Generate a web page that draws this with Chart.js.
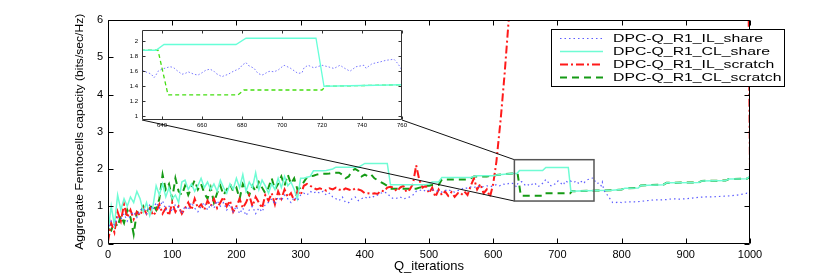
<!DOCTYPE html>
<html><head><meta charset="utf-8">
<script src="https://cdn.jsdelivr.net/npm/chart.js@4/dist/chart.umd.min.js"></script>
<style>
html,body{margin:0;padding:0;background:#fff;}
#wrap{position:relative;width:830px;height:274px;overflow:hidden;}
#main{position:absolute;left:0;top:0;}
#inset{position:absolute;left:110px;top:22px;}
</style></head><body>
<div id="wrap"><canvas id="main" width="830" height="274"></canvas><canvas id="inset" width="300" height="115"></canvas></div>
<script>
// ---------- DATA ----------
const seriesNames = ['DPC-Q_R1_IL_share','DPC-Q_R1_CL_share','DPC-Q_R1_IL_scratch','DPC-Q_R1_CL_scratch'];
const xAxisTitle = 'Q_iterations';
const yAxisTitle = 'Aggregate Femtocells capacity (bits/sec/Hz)';
const mainXTicks = [0,100,200,300,400,500,600,700,800,900,1000];
const mainYTicks = [0,1,2,3,4,5,6];
const insetXTicks = [640,660,680,700,720,740,760];
const insetYTicks = [1,1.2,1.4,1.6,1.8,2];

// iterations sampled for the noisy first part
const iterations = [0,5,10,15,20,25,30,35,40,45,50,55,60,65,70,75,80,85,90,95,
 100,105,110,115,120,125,130,135,140,145,150,155,160,165,170,175,180,185,190,195,
 200,205,210,215,220,225,230,235,240,245,250,255,260,265,270,275,280,285,290,295,
 300,305,310,315,320,325,330,335,340,345,350,355,360,365,370,375,380,385,390,395,
 400,405,410,415,420,425,430,435,440,445,450,455,460,465,470,475,480,485,490,495,
 500,505,510,515,520,525,530,535,540,545,550,555,560,565,570,575,580,585,590,595,600];

const ilShareHead = [0.35,0.6,0.5,0.7,0.65,0.8,0.6,0.75,0.85,0.7,
 0.9,0.95,0.8,1.05,0.9,1.1,0.95,1.15,0.9,1.0,
 0.85,1.05,0.95,0.8,1.0,0.9,1.1,0.95,0.85,1.0,
 1.1,0.9,1.05,0.95,1.15,1.0,1.1,0.9,1.05,0.85,
 1.0,0.8,0.95,0.75,0.9,1.0,0.8,0.95,0.85,1.05,
 1.1,1.2,1.05,1.25,1.15,1.3,1.2,1.1,1.25,1.15,
 1.3,1.35,1.3,1.4,1.35,1.4,1.35,1.4,1.3,1.35,
 1.25,1.2,1.15,1.25,1.1,1.1,1.2,1.25,1.15,1.2,
 1.25,1.2,1.28,1.25,1.3,1.35,1.38,1.35,1.25,1.2,
 1.22,1.25,1.2,1.22,1.25,1.3,1.4,1.42,1.45,1.4,
 1.43,1.45,1.42,1.4,1.38,1.42,1.45,1.4,1.38,1.42,
 1.45,1.5,1.48,1.52,1.5,1.55,1.5,1.53,1.55,1.52,1.55];
const ilShareTailX = [605,610,615,620,625,630,632,634,635,636,637,638,640,642,644,645,646,647,648,650,
 652,653,656,658,660,662,664,666,667,670,671,673,675,677,679,680,682,683,686,688,
 690,691,693,694,696,698,699,701,704,708,710,711,713,716,720,723,726,729,731,734,
 737,741,742,745,749,752,756,758,760,765,768,770,772,775,778,782,786,790,795,800,
 810,820,830,840,850,860,870,880,890,900,910,920,930,940,950,960,970,980,990,995,1000];
const ilShareTailY = [1.58,1.55,1.6,1.58,1.62,1.615,1.59,1.57,1.55,1.514,1.55,1.6,1.628,1.645,1.66,1.655,1.645,1.62,1.6,1.56,
 1.575,1.593,1.56,1.549,1.58,1.615,1.628,1.6,1.571,1.527,1.54,1.558,1.59,1.615,1.64,1.68,1.716,1.68,1.64,1.571,
 1.549,1.56,1.593,1.6,1.593,1.615,1.637,1.68,1.645,1.571,1.58,1.645,1.68,1.645,1.68,1.66,1.637,1.68,1.645,1.6,
 1.66,1.68,1.64,1.70,1.724,1.746,1.76,1.70,1.615,1.62,1.55,1.65,1.45,1.35,1.3,1.2,1.1,1.09,1.12,1.1,
 1.12,1.12,1.13,1.15,1.17,1.17,1.18,1.2,1.19,1.2,1.22,1.24,1.25,1.25,1.26,1.27,1.28,1.3,1.33,1.35,1.32];

const clShareHead = [0.3,1.0,0.5,1.3,0.9,1.2,1.0,1.25,1.1,1.4,
 1.2,0.85,1.1,0.75,1.0,1.55,1.3,1.6,1.25,1.5,
 1.2,1.3,1.1,1.65,1.7,1.45,1.6,1.4,1.55,1.75,
 1.5,1.65,1.45,1.6,1.4,1.7,1.5,1.35,1.6,1.45,
 1.75,1.5,1.85,1.4,1.65,1.5,1.9,1.45,1.7,1.55,
 1.35,1.6,1.45,1.75,1.5,1.8,1.55,1.65,1.45,1.2,
 1.75,1.75,1.78,1.8,1.95,1.95,1.95,1.95,1.96,1.98,
 2.0,2.05,2.05,2.05,2.05,2.05,2.05,2.05,2.05,2.1,
 2.15,2.15,2.15,2.15,2.15,2.15,2.15,2.15,1.58,1.58,
 1.58,1.58,1.58,1.58,1.58,1.58,1.58,1.58,1.58,1.58,
 1.6,1.65,1.65,1.65,1.77,1.77,1.77,1.77,1.77,1.77,
 1.77,1.77,1.77,1.77,1.8,1.82,1.82,1.82,1.82,1.82,1.82];
const clShareTailX = [605,630,637,641,677,682,717,721,760,785,800,805,826,830,865,870,920,925,962,967,995,1000];
const clShareTailY = [1.84,1.88,1.88,1.957,1.957,2.04,2.04,1.4,1.42,1.43,1.45,1.48,1.49,1.56,1.58,1.63,1.64,1.68,1.69,1.73,1.74,1.8];

const ilScratchHead = [0.05,0.55,0.3,0.85,0.6,1.05,0.7,0.9,0.65,0.85,
 0.75,0.95,0.8,1.0,0.75,0.85,1.05,0.8,0.95,0.75,
 1.1,0.85,1.0,0.8,0.95,1.1,0.9,1.2,0.95,1.05,
 0.9,1.15,1.0,1.2,0.95,1.1,1.25,1.0,1.15,0.85,
 1.0,1.2,0.95,1.1,1.3,1.0,1.25,1.1,0.95,1.3,
 1.15,1.35,1.05,1.4,1.2,1.45,1.25,1.35,1.15,1.4,
 1.3,1.55,1.6,1.55,1.5,1.45,1.48,1.45,1.42,1.48,
 1.45,1.5,1.45,1.42,1.48,1.45,1.42,1.48,1.45,1.42,
 1.35,1.35,1.33,1.35,1.33,1.42,1.4,1.5,1.52,1.5,
 1.4,1.5,1.55,1.38,1.45,1.6,2.1,1.7,1.5,1.55,
 1.35,1.5,1.25,1.45,1.3,1.4,1.28,1.38,1.25,1.35,
 1.3,1.4,1.3,1.55,1.75,1.45,1.6,1.35,1.45,1.25,1.6];
const ilScratchTailX = [605,612,618,625,632,997,1000];
const ilScratchTailY = [2.2,3.4,4.6,6.2,8,8,1.95];

const clScratchHead = [0.4,0.35,0.6,0.45,0.75,0.55,0.9,0.7,0.25,0.85,
 0.8,1.0,0.85,0.95,1.05,0.9,1.2,1.85,1.45,1.6,
 1.2,1.75,1.4,1.3,1.55,1.3,1.5,1.7,1.45,1.6,
 1.35,1.2,1.5,1.1,1.35,1.55,1.3,1.45,1.6,1.4,
 1.5,1.2,1.6,1.45,1.3,1.55,1.4,1.65,1.5,1.35,
 1.5,1.75,1.45,1.6,1.8,1.55,1.85,1.6,1.75,1.45,
 1.5,1.65,1.78,1.8,1.82,1.85,1.87,1.87,1.87,1.88,
 1.9,1.9,1.9,1.85,1.75,1.8,1.95,2.0,1.95,1.8,
 1.85,1.8,1.85,1.75,1.7,1.65,1.6,1.55,1.47,1.47,
 1.47,1.47,1.47,1.47,1.47,1.47,1.47,1.5,1.52,1.55,
 1.55,1.57,1.57,1.57,1.72,1.72,1.72,1.72,1.72,1.72,
 1.72,1.72,1.72,1.75,1.8,1.8,1.8,1.8,1.8,1.82,1.82];
const clScratchTailX = [605,630,638,643,678,681,720,722,760,785,800,805,826,830,865,870,920,925,962,967,995,1000];
const clScratchTailY = [1.84,1.88,1.88,1.285,1.285,1.35,1.35,1.4,1.42,1.43,1.45,1.48,1.49,1.56,1.58,1.63,1.64,1.68,1.69,1.73,1.74,1.78];

// ---------- BUILD ----------
function pts(head, tx, ty) {
  return iterations.map((x, i) => ({x, y: head[i]})).concat(tx.map((x, i) => ({x, y: ty[i]})));
}
const ilShareData = pts(ilShareHead, ilShareTailX, ilShareTailY);
const clShareData = pts(clShareHead, clShareTailX, clShareTailY);
const ilScratchData = pts(ilScratchHead, ilScratchTailX, ilScratchTailY);
const clScratchData = pts(clScratchHead, clScratchTailX, clScratchTailY);

const FONT = '"Liberation Sans", Arial, Helvetica, sans-serif';
Chart.defaults.font.family = FONT;
Chart.defaults.color = '#000';

const styles = [
  {color:'#5c5cff', width:1.2, dash:[1.5,3]},
  {color:'#6ffcd4', width:1.5, dash:[]},
  {color:'#ff1a1a', width:2, dash:[8,3,2,3]},
  {color:'#159a15', width:2, dash:[7,5]}
];
const insetStyles = {
  ilShare: {color:'#7a7aff', width:1, dash:[1.5,2]},
  clShare: {color:'#66ffd8', width:1.3, dash:[]},
  clScratch: {color:'#44dd11', width:1.3, dash:[4,3]}
};

function ds(label, data, st) {
  return {label, data, borderColor: st.color, backgroundColor: st.color, borderWidth: st.width,
    borderDash: st.dash, pointRadius: 0, fill: false, tension: 0};
}

function frame(chart, len, color) {
  const {ctx, chartArea: a} = chart;
  const xs = chart.scales.x, ys = chart.scales.y;
  const L = Math.round(a.left) + 0.5, R = Math.round(a.right) - 0.5;
  const T = Math.round(a.top) + 0.5, B = Math.round(a.bottom) - 0.5;
  ctx.save();
  ctx.strokeStyle = color; ctx.lineWidth = 1; ctx.setLineDash([]);
  ctx.beginPath();
  ctx.rect(L, T, R - L, B - T);
  xs.ticks.forEach(t => { const p = Math.round(xs.getPixelForValue(t.value)) + 0.5;
    ctx.moveTo(p, B); ctx.lineTo(p, B - len); ctx.moveTo(p, T); ctx.lineTo(p, T + len); });
  ys.ticks.forEach(t => { const p = Math.round(ys.getPixelForValue(t.value)) + 0.5;
    ctx.moveTo(L, p); ctx.lineTo(L + len, p); ctx.moveTo(R, p); ctx.lineTo(R - len, p); });
  ctx.stroke();
  ctx.restore();
}

// ---------- INSET ----------
const insetPlugin = {
  id: 'insetDecor',
  beforeDatasetsDraw(chart) {
    const {ctx, chartArea: a} = chart;
    ctx.save(); ctx.fillStyle = '#fff'; ctx.fillRect(a.left, a.top, a.right - a.left, a.bottom - a.top); ctx.restore();
  },
  afterDatasetsDraw(chart) { frame(chart, 3, '#333'); }
};
const insetChart = new Chart(document.getElementById('inset'), {
  type: 'line',
  data: { datasets: [
    ds(seriesNames[0], ilShareData, insetStyles.ilShare),
    ds(seriesNames[1], clShareData, insetStyles.clShare),
    ds(seriesNames[3], clScratchData, insetStyles.clScratch)
  ]},
  options: {
    responsive: false, animation: false, events: [],
    layout: { padding: {left: 0, right: 8, top: 8, bottom: 0} },
    plugins: { legend: {display: false}, tooltip: {enabled: false} },
    scales: {
      x: { type: 'linear', min: 630, max: 760,
        afterBuildTicks: s => { s.ticks = insetXTicks.map(v => ({value: v})); },
        afterFit: s => { s.height = 17; },
        ticks: { font: {size: 6}, padding: 2, maxRotation: 0, autoSkip: false, callback: v => String(v) },
        grid: { display: false, drawTicks: false }, border: { display: false } },
      y: { min: 0.95, max: 2.15,
        afterBuildTicks: s => { s.ticks = insetYTicks.map(v => ({value: v})); },
        afterFit: s => { s.width = 32; },
        ticks: { font: {size: 6}, padding: 4, autoSkip: false, callback: v => String(v) },
        grid: { display: false, drawTicks: false }, border: { display: false } }
    }
  },
  plugins: [insetPlugin]
});

// ---------- MAIN ----------
const zoomBox = {x0: 633, x1: 757, y0: 1.14, y1: 2.25};
const insetOffset = {left: 110, top: 22};
const legendBox = {left: 551, top: 29, right: 784, bottom: 86};

const mainPlugin = {
  id: 'mainDecor',
  afterDatasetsDraw(chart) {
    frame(chart, 5, '#000');
    const {ctx} = chart;
    const xs = chart.scales.x, ys = chart.scales.y;
    const bx0 = xs.getPixelForValue(zoomBox.x0), bx1 = xs.getPixelForValue(zoomBox.x1);
    const by0 = ys.getPixelForValue(zoomBox.y1), by1 = ys.getPixelForValue(zoomBox.y0);
    const ia = insetChart.chartArea;
    const iL = ia.left + insetOffset.left, iR = ia.right + insetOffset.left, iB = ia.bottom + insetOffset.top;
    ctx.save();
    ctx.setLineDash([]);
    ctx.strokeStyle = '#111'; ctx.lineWidth = 1;
    ctx.beginPath();
    ctx.moveTo(iR, iB); ctx.lineTo(bx0, by0);
    ctx.moveTo(iL, iB); ctx.lineTo(bx0, by1);
    ctx.stroke();
    ctx.strokeStyle = '#555'; ctx.lineWidth = 1.5;
    ctx.strokeRect(bx0, by0, bx1 - bx0, by1 - by0);
    ctx.restore();
  },
  afterDraw(chart) {
    const {ctx} = chart;
    ctx.save();
    const lb = legendBox;
    ctx.fillStyle = '#fff';
    ctx.fillRect(lb.left, lb.top, lb.right - lb.left, lb.bottom - lb.top);
    ctx.strokeStyle = '#000'; ctx.lineWidth = 1; ctx.setLineDash([]);
    ctx.strokeRect(lb.left + 0.5, lb.top + 0.5, lb.right - lb.left, lb.bottom - lb.top);
    ctx.font = '10px ' + FONT;
    ctx.textBaseline = 'middle'; ctx.textAlign = 'left';
    const sx = 150 / ctx.measureText(seriesNames[0]).width;
    seriesNames.forEach((name, i) => {
      const y = lb.top + 9.5 + i * 13;
      const st = styles[i];
      ctx.strokeStyle = st.color; ctx.lineWidth = st.width; ctx.setLineDash(st.dash);
      ctx.beginPath(); ctx.moveTo(lb.left + 9, y); ctx.lineTo(lb.left + 52, y); ctx.stroke();
      ctx.fillStyle = '#000';
      ctx.save(); ctx.translate(lb.left + 62, y + 0.5); ctx.scale(sx, 1); ctx.fillText(name, 0, 0); ctx.restore();
    });
    ctx.restore();
    ctx.save();
    const a = chart.chartArea;
    ctx.translate(80, (a.top + a.bottom) / 2);
    ctx.rotate(-Math.PI / 2);
    ctx.font = '11px ' + FONT;
    ctx.textAlign = 'center'; ctx.textBaseline = 'middle'; ctx.fillStyle = '#000';
    const w = ctx.measureText(yAxisTitle).width;
    ctx.scale(236 / w, 1);
    ctx.fillText(yAxisTitle, 0, 0);
    ctx.restore();
  }
};

new Chart(document.getElementById('main'), {
  type: 'line',
  data: { datasets: [
    ds(seriesNames[0], ilShareData, styles[0]),
    ds(seriesNames[1], clShareData, styles[1]),
    ds(seriesNames[2], ilScratchData, styles[2]),
    ds(seriesNames[3], clScratchData, styles[3])
  ]},
  options: {
    responsive: false, animation: false, events: [],
    layout: { padding: {left: 0, right: 80, top: 20, bottom: 0} },
    plugins: { legend: {display: false}, tooltip: {enabled: false} },
    scales: {
      x: { type: 'linear', min: 0, max: 1000,
        afterBuildTicks: s => { s.ticks = mainXTicks.map(v => ({value: v})); },
        afterFit: s => { s.height = 30.5; },
        ticks: { font: {size: 11}, padding: 5, maxRotation: 0, autoSkip: false, callback: v => String(v) },
        grid: { display: false, drawTicks: false }, border: { display: false },
        title: { display: true, text: xAxisTitle, font: {size: 13}, padding: 0, color: '#000' } },
      y: { min: 0, max: 6,
        afterBuildTicks: s => { s.ticks = mainYTicks.map(v => ({value: v})); },
        afterFit: s => { s.width = 108; },
        ticks: { font: {size: 11}, padding: 5, autoSkip: false, callback: v => String(v) },
        grid: { display: false, drawTicks: false }, border: { display: false } }
    }
  },
  plugins: [mainPlugin]
});
</script>
</body></html>
